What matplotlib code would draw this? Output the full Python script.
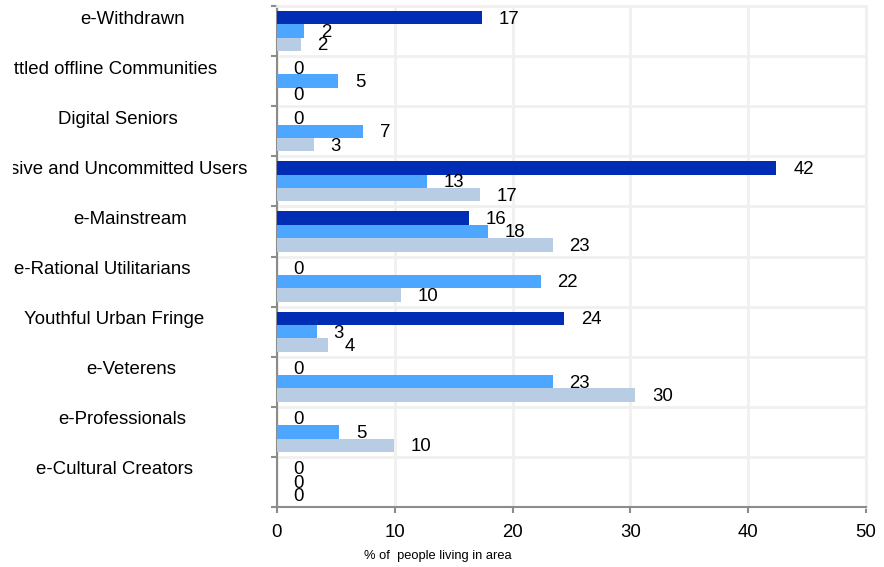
import matplotlib
matplotlib.use("Agg")
import matplotlib.pyplot as plt
import matplotlib.transforms as mtransforms
import numpy as np

plt.rcParams['font.family'] = ['Liberation Sans', 'DejaVu Sans']

categories = ["e-Withdrawn", "Settled offline Communities", "Digital Seniors",
              "Passive and Uncommitted Users", "e-Mainstream", "e-Rational Utilitarians",
              "Youthful Urban Fringe", "e-Veterens", "e-Professionals", "e-Cultural Creators"]
dark = [17.4, 0, 0, 42.4, 16.3, 0, 24.4, 0, 0, 0]
medium = [2.3, 5.2, 7.3, 12.7, 17.9, 22.4, 3.4, 23.4, 5.3, 0]
light = [2.0, 0, 3.1, 17.2, 23.4, 10.5, 4.3, 30.4, 9.9, 0]
xticks = [0, 10, 20, 30, 40, 50]

# where each category label is centred (figure pixels), as in the original layout
label_cx = [132.5, 104, 118, 113, 130.5, 102, 114, 131, 122, 114.5]

colors = ['#002db3', '#4da6ff', '#b8cce4']
series = [dark, medium, light]

W, H = 884, 567
fig = plt.figure(figsize=(W / 100, H / 100), dpi=100)
ax = fig.add_axes([277 / W, 1 - 507 / H, 589 / W, 501 / H])

y = np.arange(len(categories))
h = 0.267
for k, (vals, c) in enumerate(zip(series, colors)):
    pos = y + (k - 1) * h
    ax.barh(pos, vals, height=h, color=c, zorder=3)
    for p, v in zip(pos, vals):
        ax.annotate(f"{v:.0f}", (v, p), xytext=(12, -1), textcoords='offset points',
                    ha='left', va='center', fontsize=13.4, zorder=4)

ax.set_xlim(0, 50)
ax.set_ylim(len(categories) - 0.5, -0.5)
ax.set_xticks(xticks)
ax.set_xticklabels([str(t) for t in xticks], fontsize=13.4)
ax.set_yticks(np.arange(len(categories) + 1) - 0.5)
ax.set_yticklabels([])

ax.grid(True, color='#f0f0f0', linewidth=2, zorder=0)
for s in ['top', 'right']:
    ax.spines[s].set_color('#f0f0f0')
    ax.spines[s].set_linewidth(2)
for s in ['left', 'bottom']:
    ax.spines[s].set_color('#8c8c8c')
    ax.spines[s].set_linewidth(1.5)
ax.tick_params(axis='both', color='#8c8c8c', length=4, width=1.5)
ax.tick_params(axis='x', pad=8)

# labels are cut a little inside the left edge
clip = mtransforms.TransformedBbox(mtransforms.Bbox([[13, 0], [W, H]]),
                                   mtransforms.IdentityTransform())
trans = mtransforms.blended_transform_factory(fig.transFigure, ax.transData)
for i, name in enumerate(categories):
    t = ax.text(label_cx[i] / W, i - 0.24, name, transform=trans, ha='center',
                va='center', fontsize=13.4)
    t.set_clip_box(clip)
    t.set_clip_on(True)

fig.text(438 / W, 1 - 556 / H, "% of  people living in area", ha='center', va='center',
         fontsize=9.3)

fig.savefig("out.png", dpi=100)
